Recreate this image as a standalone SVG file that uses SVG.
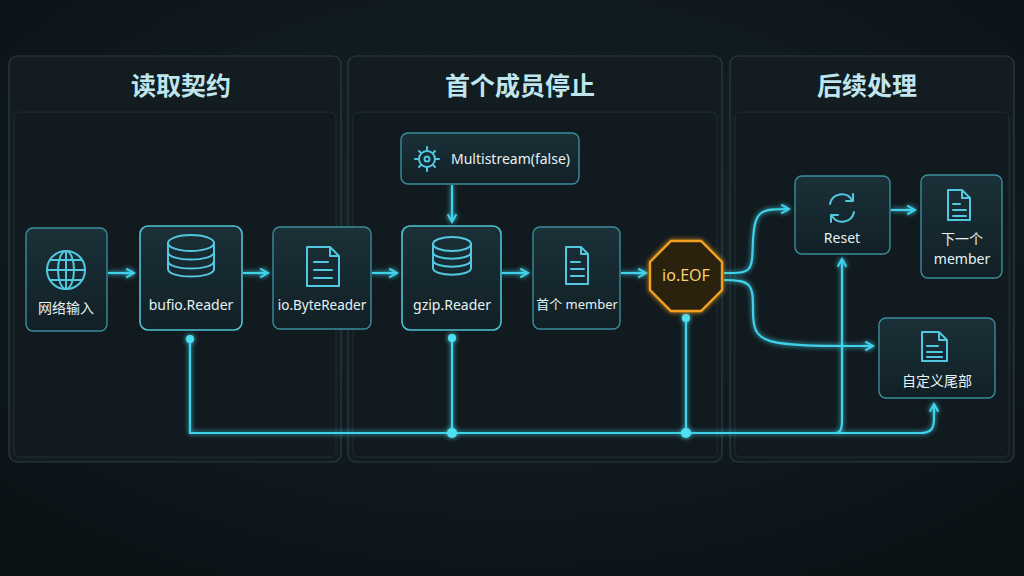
<svg xmlns="http://www.w3.org/2000/svg" width="1024" height="576" viewBox="0 0 1024 576">
<defs>
<radialGradient id="bg" cx="50%" cy="40%" r="70%"><stop offset="0" stop-color="#15242b"/><stop offset="1" stop-color="#0b1216"/></radialGradient>
<linearGradient id="nf" x1="0" y1="0" x2="0" y2="1"><stop offset="0" stop-color="#1b3038"/><stop offset="1" stop-color="#112026"/></linearGradient>
<marker id="ah" viewBox="0 0 10 10" refX="8" refY="5" markerWidth="11" markerHeight="11" orient="auto" markerUnits="userSpaceOnUse"><path d="M1 1 L8 5 L1 9" fill="none" stroke="#3fd2ea" stroke-width="1.8"/></marker>
<filter id="glow" filterUnits="userSpaceOnUse" x="0" y="0" width="1024" height="576"><feGaussianBlur stdDeviation="2.5" result="b"/><feMerge><feMergeNode in="b"/><feMergeNode in="SourceGraphic"/></feMerge></filter>
</defs>
<style>
.panel{fill:#121c21;stroke:#2a3d44;stroke-width:1.2}
.inner{fill:#111a1e;stroke:#1f2e34;stroke-width:1}
.title{font-family:"Noto Sans CJK SC","Noto Sans",sans-serif;font-size:25px;font-weight:bold;fill:#bfe6ee;text-anchor:middle}
.node{fill:url(#nf);stroke:#3a8d9c;stroke-width:1.4}
.hl{stroke:#4cc3d6;stroke-width:1.6}
.lbl{font-family:"Noto Sans","Noto Sans CJK SC",sans-serif;font-size:14px;fill:#e6f2f4;text-anchor:middle}
.ic{fill:none;stroke:#52c8e0;stroke-width:2;stroke-linejoin:round;stroke-linecap:round}
.c{fill:none;stroke:#3fd2ea;stroke-width:2.2}
.dot{fill:#4fe0f2}
</style>
<rect width="1024" height="576" fill="url(#bg)"/>
<g id="panels">
<rect class="panel" x="9" y="56" width="332" height="406" rx="8"/>
<rect class="inner" x="14" y="112" width="322" height="345" rx="6"/>
<text class="title" x="181" y="95">读取契约</text>
<rect class="panel" x="348" y="56" width="374" height="406" rx="8"/>
<rect class="inner" x="353" y="112" width="364" height="345" rx="6"/>
<text class="title" x="520" y="95">首个成员停止</text>
<rect class="panel" x="730" y="56" width="284" height="406" rx="8"/>
<rect class="inner" x="735" y="112" width="274" height="345" rx="6"/>
<text class="title" x="867" y="95">后续处理</text>
</g>
<g id="connectors" filter="url(#glow)">
<path class="c" d="M108 273 H134" marker-end="url(#ah)"/>
<path class="c" d="M243 273 H268" marker-end="url(#ah)"/>
<path class="c" d="M372 273 H397" marker-end="url(#ah)"/>
<path class="c" d="M502 273 H528" marker-end="url(#ah)"/>
<path class="c" d="M621 273 H646" marker-end="url(#ah)"/>
<path class="c" d="M452 185 V222" marker-end="url(#ah)"/>
<path class="c" d="M891 210 H915" marker-end="url(#ah)"/>
<path class="c" d="M724 273 C752 273 752 273 753 240 C755 210 760 209 789 209" marker-end="url(#ah)"/>
<path class="c" d="M724 280 C752 280 753 285 753 310 C753 345 760 346 873 346" marker-end="url(#ah)"/>
<path class="c" d="M190 339 V433 H920 C932 433 934 428 934 418 V404" marker-end="url(#ah)"/>
<path class="c" d="M452 338 V433"/>
<path class="c" d="M686 318 V433"/>
<path class="c" d="M835 433 C841 433 842 428 842 420 V259" marker-end="url(#ah)"/>
<circle class="dot" cx="190" cy="339" r="4"/>
<circle class="dot" cx="452" cy="338" r="4"/>
<circle class="dot" cx="686" cy="318" r="4"/>
<circle class="dot" cx="452" cy="433" r="5"/>
<circle class="dot" cx="686" cy="433" r="5"/>
</g>
<g id="n-net">
<rect class="node" x="26" y="228" width="81" height="103" rx="7"/>
<circle class="ic" cx="66" cy="270" r="19"/><ellipse class="ic" cx="66" cy="270" rx="8" ry="19"/><path class="ic" d="M47 270 H85 M50 260 H82 M50 280 H82 M66 251 V289"/>
<text class="lbl" x="66" y="313">网络输入</text>
</g>
<g id="n-bufio">
<rect class="node hl" x="140" y="226" width="102" height="104" rx="8"/>
<g class="ic"><ellipse cx="191" cy="243" rx="23" ry="8"/><path d="M168 243 V269 C168 279 214 279 214 269 V243 M168 252 C168 262 214 262 214 252 M168 261 C168 271 214 271 214 261"/></g>
<text class="lbl" x="191" y="310">bufio.Reader</text>
</g>
<g id="n-byte">
<rect class="node" x="273" y="227" width="98" height="102" rx="7"/>
<path class="ic" d="M307 247 H330 L339 256 V286 H307 Z M330 247 V256 H339 M314 262 H328 M314 270 H332 M314 278 H332"/>
<text class="lbl" x="322" y="310" style="font-size:13.5px">io.ByteReader</text>
</g>
<g id="n-ms">
<rect class="node" x="401" y="133" width="178" height="51" rx="7"/>
<circle class="ic" cx="427" cy="159" r="8"/><circle class="ic" cx="427" cy="159" r="2.5"/>
<path class="ic" d="M427 147 V151 M427 167 V171 M415 159 H419 M435 159 H439 M419 151 L421 153 M433 165 L435 167 M435 151 L433 153 M419 167 L421 165"/>
<text class="lbl" x="451" y="164" style="text-anchor:start">Multistream(false)</text>
</g>
<g id="n-gzip">
<rect class="node hl" x="402" y="226" width="99" height="104" rx="8"/>
<g class="ic"><ellipse cx="452" cy="244" rx="19" ry="7"/><path d="M433 244 V268 C433 277 471 277 471 268 V244 M433 252 C433 261 471 261 471 252 M433 260 C433 269 471 269 471 260"/></g>
<text class="lbl" x="452" y="310">gzip.Reader</text>
</g>
<g id="n-first">
<rect class="node" x="533" y="227" width="87" height="102" rx="7"/>
<path class="ic" d="M566 247 H581 L588 254 V284 H566 Z M581 247 V254 H588 M571 262 H580 M571 269 H584 M571 276 H584"/>
<text class="lbl" x="577" y="309" style="font-size:13px">首个 member</text>
</g>
<g id="n-eof">
<polygon points="671,241 701,241 722,262 722,290 701,311 671,311 650,290 650,262" fill="#2a2410" stroke="#f2a020" stroke-width="2.4" filter="url(#glow)"/>
<text class="lbl" x="686" y="281" style="font-size:16px;fill:#f9cf70">io.EOF</text>
</g>
<g id="n-reset">
<rect class="node" x="795" y="176" width="95" height="78" rx="7"/>
<path class="ic" d="M830 204 A12 12 0 0 1 852 200 M854 212 A12 12 0 0 1 832 216"/>
<path class="ic" d="M853 194 V201 H846 M831 222 V215 H838"/>
<text class="lbl" x="842" y="243">Reset</text>
</g>
<g id="n-next">
<rect class="node" x="921" y="175" width="81" height="103" rx="7"/>
<path class="ic" d="M948 190 H962 L970 198 V220 H948 Z M962 190 V198 H970 M953 204 H960 M953 210 H966 M953 216 H966"/>
<text class="lbl" x="962" y="244">下一个</text>
<text class="lbl" x="962" y="264">member</text>
</g>
<g id="n-tail">
<rect class="node" x="879" y="318" width="116" height="80" rx="7"/>
<path class="ic" d="M922 332 H939 L947 340 V361 H922 Z M939 332 V340 H947 M927 346 H938 M927 352 H942 M927 357 H942"/>
<text class="lbl" x="937" y="386">自定义尾部</text>
</g>
</svg>
